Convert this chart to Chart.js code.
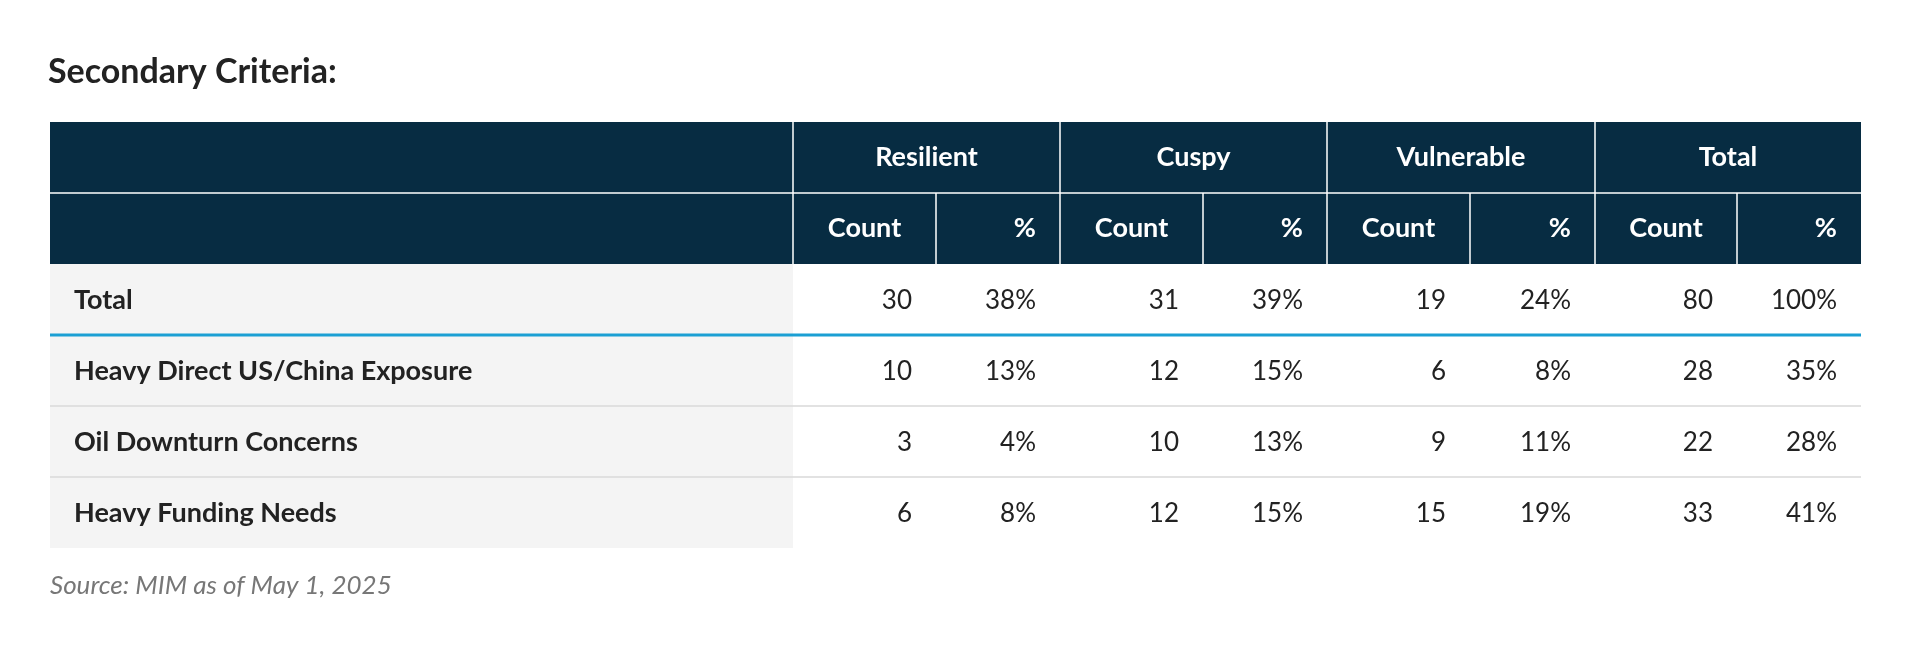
<!DOCTYPE html>
<html>
<head>
<meta charset="utf-8">
<script src="https://cdn.jsdelivr.net/npm/chart.js@4"></script>
<style>
  html, body { margin: 0; padding: 0; background: #fff; }
  #wrap { width: 1913px; height: 646px; }
</style>
</head>
<body>
<div id="wrap"><canvas id="myChart"></canvas></div>
<script>
// Table data
var groups = ['Resilient', 'Cuspy', 'Vulnerable', 'Total'];
var subHeads = ['Count', '%'];
var rowLabels = ['Total', 'Heavy Direct US/China Exposure', 'Oil Downturn Concerns', 'Heavy Funding Needs'];
var counts = [
  [30, 31, 19, 80],
  [10, 12, 6, 28],
  [3, 10, 9, 22],
  [6, 12, 15, 33]
];
var percents = [
  ['38%', '39%', '24%', '100%'],
  ['13%', '15%', '8%', '35%'],
  ['4%', '13%', '11%', '28%'],
  ['8%', '15%', '19%', '41%']
];

// column edges in table units (x scale), rows are 1 unit each on y
var colEdges = [0, 743, 886, 1010, 1153, 1277, 1420, 1545, 1687, 1811];

var navy = '#072c42';
var font = 'Lato, "Noto Sans", sans-serif';

var tablePlugin = {
  id: 'table',
  afterDraw: function (chart) {
    var c = chart.ctx, xs = chart.scales.x, ys = chart.scales.y;
    var X = function (v) { return xs.getPixelForValue(v); };
    var Y = function (v) { return ys.getPixelForValue(v); };
    var left = X(0), right = X(colEdges[colEdges.length - 1]);
    c.save();

    // title
    c.fillStyle = '#222';
    c.font = 'bold 34px ' + font;
    c.textBaseline = 'middle';
    c.textAlign = 'left';
    c.fillText('Secondary Criteria:', left - 2, Y(0) - 50);

    // header
    c.fillStyle = navy;
    c.fillRect(left, Y(0), right - left, Y(2) - Y(0));
    // label column background
    c.fillStyle = '#f4f4f4';
    c.fillRect(left, Y(2), X(colEdges[1]) - left, Y(6) - Y(2));

    // header lines
    c.strokeStyle = '#ffffff';
    c.lineWidth = 1.5;
    c.beginPath();
    c.moveTo(left, Y(1)); c.lineTo(right, Y(1));
    for (var i = 1; i < colEdges.length - 1; i++) {
      var top = (i % 2 === 1) ? Y(0) : Y(1);
      c.moveTo(X(colEdges[i]), top); c.lineTo(X(colEdges[i]), Y(2));
    }
    c.stroke();

    c.fillStyle = '#fff';
    c.font = 'bold 27px ' + font;
    c.textAlign = 'center';
    groups.forEach(function (g, k) {
      c.fillText(g, (X(colEdges[1 + 2 * k]) + X(colEdges[3 + 2 * k])) / 2, (Y(0) + Y(1)) / 2);
      c.textAlign = 'center';
      c.fillText(subHeads[0], (X(colEdges[1 + 2 * k]) + X(colEdges[2 + 2 * k])) / 2, (Y(1) + Y(2)) / 2);
      c.textAlign = 'right';
      c.fillText(subHeads[1], X(colEdges[3 + 2 * k]) - 24, (Y(1) + Y(2)) / 2);
      c.textAlign = 'center';
    });

    // body rows
    rowLabels.forEach(function (lab, r) {
      var yc = (Y(2 + r) + Y(3 + r)) / 2 + 1;
      c.fillStyle = '#222';
      c.textAlign = 'left';
      c.font = 'bold 27px ' + font;
      c.fillText(lab, left + 24, yc);
      c.font = '26px ' + font;
      c.textAlign = 'right';
      for (var k = 0; k < groups.length; k++) {
        c.fillText(String(counts[r][k]), X(colEdges[2 + 2 * k]) - 24, yc);
        c.fillText(percents[r][k], X(colEdges[3 + 2 * k]) - 24, yc);
      }
    });

    // separators
    c.strokeStyle = '#1b9fd3';
    c.lineWidth = 3;
    c.beginPath(); c.moveTo(left, Y(3)); c.lineTo(right, Y(3)); c.stroke();
    c.strokeStyle = '#d9d9d9';
    c.lineWidth = 1.5;
    c.beginPath();
    c.moveTo(left, Y(4)); c.lineTo(right, Y(4));
    c.moveTo(left, Y(5)); c.lineTo(right, Y(5));
    c.stroke();

    // source
    c.fillStyle = '#777';
    c.textAlign = 'left';
    c.font = 'italic 26px ' + font;
    c.fillText('Source: MIM as of May 1, 2025', left, Y(6) + 38);
    c.restore();
  }
};

var ctx = document.getElementById('myChart').getContext('2d');
var myChart = new Chart(ctx, {
  type: 'scatter',
  data: { datasets: [{ data: [] }] },
  options: {
    responsive: true,
    maintainAspectRatio: false,
    animation: false,
    layout: { padding: { left: 50, right: 52, top: 122, bottom: 98 } },
    plugins: { legend: { display: false }, tooltip: { enabled: false } },
    scales: {
      x: { type: 'linear', display: false, min: 0, max: colEdges[colEdges.length - 1] },
      y: { type: 'linear', display: false, min: 0, max: 6, reverse: true }
    }
  },
  plugins: [tablePlugin]
});
</script>
</body>
</html>
